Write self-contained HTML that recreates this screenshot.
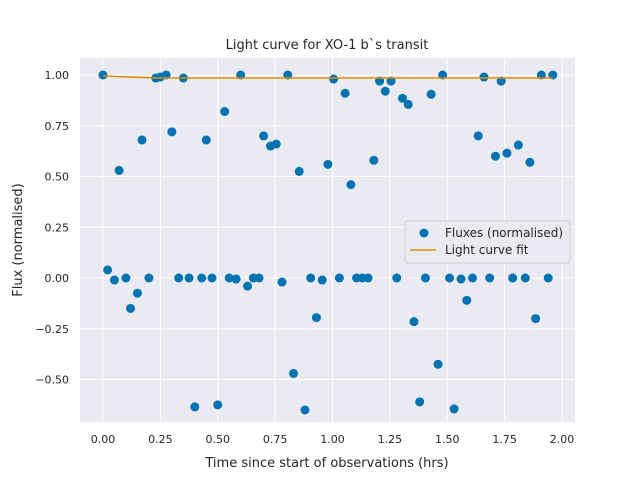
<!DOCTYPE html>
<html><head><meta charset="utf-8"><style>
body{margin:0;background:#fff;font-family:"DejaVu Sans","Liberation Sans",sans-serif;}
svg text{font-family:"DejaVu Sans","Liberation Sans",sans-serif;fill:#262626;}
</style></head><body>
<svg id="chart" width="640" height="480">
<rect x="0" y="0" width="640" height="480" fill="#fff"/>
<rect x="80" y="58" width="495" height="364" fill="#eaeaf2"/>
<g id="grid"></g>
<g id="ticks"></g>
<g id="marks"></g>
<text x="327" y="49" font-size="13" text-anchor="middle">Light curve for XO-1 b`s transit</text>
<text x="327" y="467" font-size="13" text-anchor="middle">Time since start of observations (hrs)</text>
<text x="22" y="240" font-size="13" text-anchor="middle" transform="rotate(-90 22 240)">Flux (normalised)</text>
<g>
<rect x="405" y="221" width="165" height="42" rx="3" fill="#eaeaf2" fill-opacity="0.8" stroke="#cccccc"/>
<circle cx="424" cy="233" r="4.5" fill="#0173b2"/>
<text x="445" y="237" font-size="12">Fluxes (normalised)</text>
<line x1="410" y1="250" x2="436" y2="250" stroke="#de8f05" stroke-width="1.5"/>
<text x="445" y="254" font-size="12">Light curve fit</text>
</g>
</svg>
<script>
const timeHrs=[0.00,0.02,0.05,0.07,0.10,0.12,0.15,0.17,0.20,0.23,0.25,0.275,0.30,0.33,0.35,0.375,0.40,0.43,0.45,0.475,0.50,0.53,0.55,0.58,0.60,0.63,0.655,0.68,0.70,0.73,0.755,0.78,0.805,0.83,0.855,0.88,0.905,0.93,0.955,0.98,1.005,1.03,1.055,1.08,1.105,1.13,1.155,1.18,1.205,1.23,1.255,1.28,1.305,1.33,1.355,1.38,1.405,1.43,1.46,1.48,1.51,1.53,1.56,1.585,1.61,1.635,1.66,1.685,1.71,1.735,1.76,1.785,1.81,1.84,1.86,1.885,1.91,1.94,1.96];
const fluxes=[1.00,0.04,-0.01,0.53,0,-0.15,-0.075,0.68,0,0.985,0.99,1.0,0.72,0,0.985,0,-0.635,0,0.68,0,-0.625,0.82,0,-0.005,1.0,-0.04,0,0,0.70,0.65,0.66,-0.02,1.0,-0.47,0.525,-0.65,0,-0.195,-0.01,0.56,0.98,0,0.91,0.46,0,0,0,0.58,0.97,0.92,0.97,0,0.885,0.855,-0.215,-0.61,0,0.905,-0.425,1.0,0,-0.645,-0.005,-0.11,0,0.70,0.99,0,0.60,0.97,0.615,0,0.655,0,0.57,-0.20,1.0,0,1.0];
const fitX=[0,0.23,1.96];
const fitY=[0.995,0.985,0.985];
const xTicks=[0,0.25,0.5,0.75,1.0,1.25,1.5,1.75,2.0];
const yTicks=[-0.5,-0.25,0,0.25,0.5,0.75,1.0];
const NS="http://www.w3.org/2000/svg";
const xs=v=>103+v*229.5;
const ys=v=>278-v*203;
const grid=document.getElementById('grid'),ticks=document.getElementById('ticks'),marks=document.getElementById('marks');
function mk(t,a,p){const e=document.createElementNS(NS,t);for(const k in a)e.setAttribute(k,a[k]);p.appendChild(e);return e;}
xTicks.forEach(t=>{
 const l=mk('line',{x1:xs(t),x2:xs(t),y1:58,y2:422,stroke:'#fff','stroke-width':1},grid);
 
 
 const tx=mk('text',{x:xs(t),y:443,'font-size':11,'text-anchor':'middle'},ticks);
 tx.textContent=t.toFixed(2);
 
 
});
yTicks.forEach(t=>{
 const l=mk('line',{x1:80,x2:575,y1:ys(t),y2:ys(t),stroke:'#fff','stroke-width':1},grid);
 
 
 const tx=mk('text',{x:69,y:ys(t)+4,'font-size':11,'text-anchor':'end'},ticks);
 tx.textContent=(t<0?'\u2212'+Math.abs(t).toFixed(2):t.toFixed(2));
 
 
});
timeHrs.forEach((t,i)=>{
 const c=mk('circle',{cx:xs(t),cy:ys(fluxes[i]),r:4.5,fill:'#0173b2'},marks);
 
 
});
const pl=mk('polyline',{points:fitX.map((x,i)=>xs(x)+','+ys(fitY[i])).join(' '),fill:'none',stroke:'#de8f05','stroke-width':1.5},marks);


</script>
</body></html>
